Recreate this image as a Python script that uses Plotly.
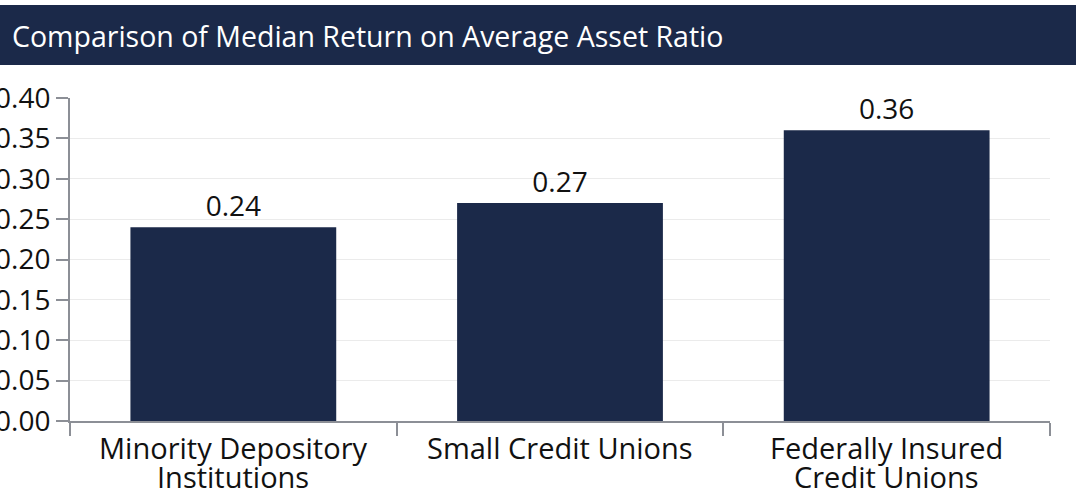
import plotly.graph_objects as go

categories = ["Minority Depository<br>Institutions", "Small Credit Unions",
              "Federally Insured<br>Credit Unions"]
values = [0.24, 0.27, 0.36]
value_labels = ["0.24", "0.27", "0.36"]
y_ticks = [0.00, 0.05, 0.10, 0.15, 0.20, 0.25, 0.30, 0.35, 0.40]
title_text = "Comparison of Median Return on Average Asset Ratio"

NAVY = "#1b2949"
AXIS = "#8c8f96"
FONT = "'Open Sans', sans-serif"

W, H = 1076, 494
ml, mr, mt, mb = 70, 26, 98, 73
pw, ph = W - ml - mr, H - mt - mb

fig = go.Figure(go.Bar(
    x=categories, y=values, text=value_labels, textposition="outside",
    textfont=dict(size=28, color="#111111", family=FONT),
    marker=dict(color=NAVY, line=dict(width=0)),
    cliponaxis=False,
))

# title banner across the top
fig.add_shape(type="rect", xref="paper", yref="paper",
              x0=-ml / pw, x1=(W - ml) / pw,
              y0=(H - mb - 65) / ph, y1=(H - mb - 5) / ph,
              fillcolor=NAVY, line=dict(width=0), layer="above")
fig.add_annotation(text=title_text, xref="paper", yref="paper",
                   x=(10 - ml) / pw, y=(H - mb - 36) / ph,
                   xanchor="left", yanchor="middle", showarrow=False,
                   font=dict(size=28.5, color="white", family=FONT))

# category labels: one annotation per line for tighter line spacing
for cat in categories:
    for i, line in enumerate(cat.split("<br>")):
        fig.add_annotation(text=line, x=cat, xref="x", y=0, yref="paper",
                           yanchor="middle", yshift=-26 - 29 * i,
                           showarrow=False,
                           font=dict(size=29, color="#111111", family=FONT))

fig.update_xaxes(showline=True, linecolor=AXIS, linewidth=2,
                 ticks="outside", tickson="boundaries", ticklen=13,
                 tickcolor=AXIS, tickwidth=2, automargin=False,
                 showticklabels=False, showgrid=False)
fig.update_yaxes(range=[0, 0.40], tickvals=y_ticks, tickformat=".2f",
                 showline=True, linecolor=AXIS, linewidth=2,
                 ticks="outside", ticklen=12, tickcolor=AXIS, tickwidth=2,
                 automargin=False,
                 tickfont=dict(size=28, color="#111111", family=FONT),
                 showgrid=True, gridcolor="#ebebeb", gridwidth=1,
                 zeroline=False)
fig.update_layout(width=W, height=H, bargap=0.37,
                  margin=dict(l=ml, r=mr, t=mt, b=mb),
                  plot_bgcolor="white", paper_bgcolor="white",
                  showlegend=False)
# page body has a default 8px margin; drop it so the figure sits at 0,0
fig.write_html("out.html", config={"displayModeBar": False},
               post_script="document.body.style.margin='0';")
